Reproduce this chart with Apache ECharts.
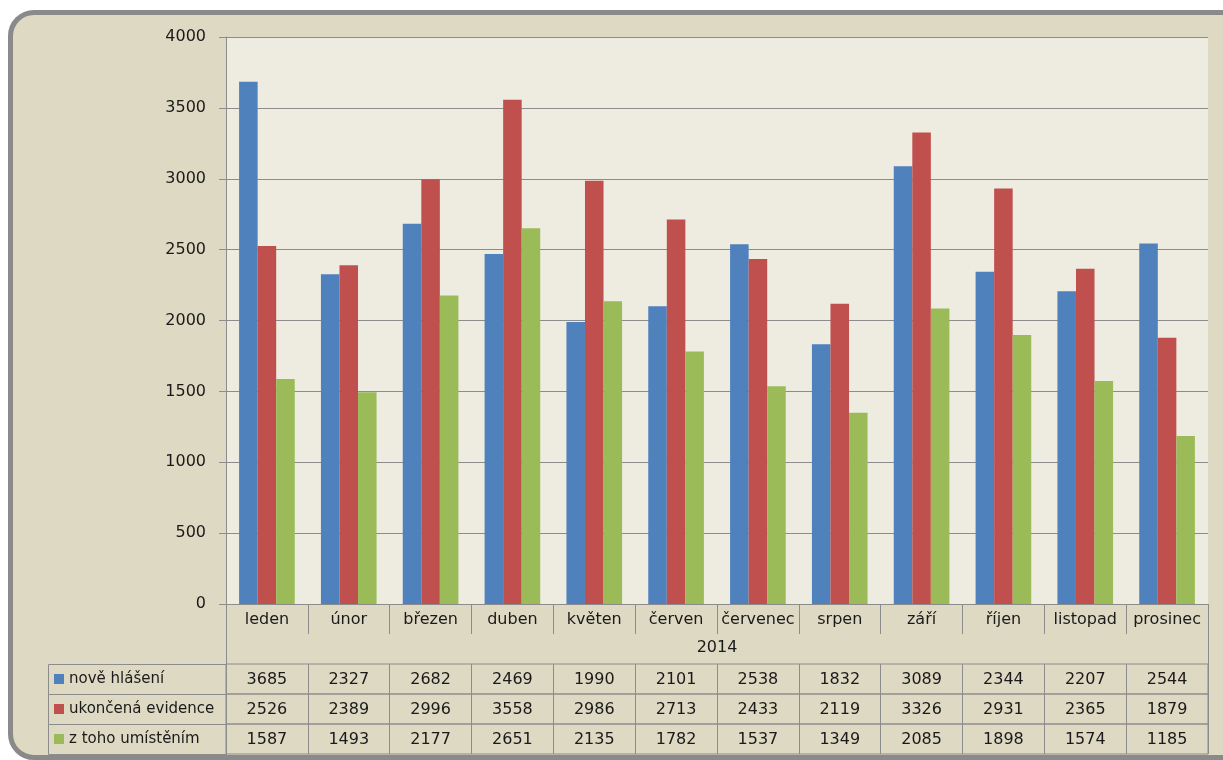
<!DOCTYPE html>
<html>
<head>
<meta charset="utf-8">
<script src="https://cdn.jsdelivr.net/npm/echarts@6/dist/echarts.min.js"></script>
<style>
  body { margin: 0; background: #fff; overflow: hidden; }
  #frame { position: absolute; left: 8px; top: 10px; width: 1240px; height: 740px;
           background: #ddd9c3; border: 5px solid #8a8a8a; border-radius: 26px; }
  #main { position: absolute; left: 0; top: 0; width: 1223px; height: 760px; }
</style>
</head>
<body>
<div id="frame"></div>
<div id="main"></div>
<script>
// data
const months = ['leden', 'únor', 'březen', 'duben', 'květen', 'červen', 'červenec', 'srpen', 'září', 'říjen', 'listopad', 'prosinec'];
const years = ['2014'];
const seriesNames = ['nově hlášení', 'ukončená evidence', 'z toho umístěním'];
const noveHlaseni = [3685, 2327, 2682, 2469, 1990, 2101, 2538, 1832, 3089, 2344, 2207, 2544];
const ukoncenaEvidence = [2526, 2389, 2996, 3558, 2986, 2713, 2433, 2119, 3326, 2931, 2365, 1879];
const zTohoUmistenim = [1587, 1493, 2177, 2651, 2135, 1782, 1537, 1349, 2085, 1898, 1574, 1185];
const yMin = 0, yMax = 4000, yStep = 500;

const rows = [noveHlaseni, ukoncenaEvidence, zTohoUmistenim];
const colors = ['#4f81bd', '#c0504d', '#9bbb59'];
const lineCol = '#8c8c8c';
const font = 'DejaVu Sans';

const chart = echarts.init(document.getElementById('main'));

// plot grid + three table row grids
const grids = [{ left: 226, right: 15, top: 37, bottom: 156, show: true, backgroundColor: '#eeece1', borderWidth: 0 }];
const xAxes = [
  {
    type: 'category', gridIndex: 0, data: months,
    axisLine: { lineStyle: { color: lineCol } },
    axisTick: { show: true, length: 30, interval: 0, lineStyle: { color: lineCol } },
    axisLabel: { interval: 0, margin: 8, fontSize: 16, fontFamily: font, color: '#1a1a1a' }
  },
  {
    type: 'category', gridIndex: 0, position: 'bottom', data: years,
    axisLine: { show: false },
    axisTick: { show: true, length: 60, interval: 0, lineStyle: { color: lineCol } },
    axisLabel: { interval: 0, margin: 36, fontSize: 16, fontFamily: font, color: '#1a1a1a' }
  }
];
const yAxes = [{
  type: 'value', gridIndex: 0, min: yMin, max: yMax, interval: yStep,
  axisLine: { show: true, lineStyle: { color: lineCol } },
  axisTick: { show: true, length: 7, lineStyle: { color: lineCol } },
  splitLine: { lineStyle: { color: lineCol } },
  axisLabel: { margin: 20, fontSize: 16, fontFamily: font, color: '#1a1a1a', formatter: v => String(v) }
}];
const graphics = [];

rows.forEach((vals, i) => {
  grids.push({ left: 226, right: 15, top: 664 + 30 * i, height: 30, show: true, borderColor: lineCol, borderWidth: 1, backgroundColor: 'transparent' });
  xAxes.push({
    type: 'category', gridIndex: i + 1, data: vals.map(String),
    axisLine: { show: false }, axisTick: { show: false },
    splitLine: { show: true, interval: 0, lineStyle: { color: lineCol } },
    axisLabel: { interval: 0, margin: -22, fontSize: 16, fontFamily: font, color: '#1a1a1a' }
  });
  yAxes.push({ type: 'value', gridIndex: i + 1, show: false });
  graphics.push({
    type: 'rect', left: 48, top: 664 + 30 * i,
    shape: { width: 178, height: 30 },
    style: { fill: 'transparent', stroke: lineCol, lineWidth: 1 }
  });
});

const option = {
  backgroundColor: 'transparent',
  animation: false,
  color: colors,
  grid: grids,
  xAxis: xAxes,
  yAxis: yAxes,
  graphic: graphics,
  legend: {
    orient: 'vertical', left: 54, top: 671, padding: 0,
    itemWidth: 10, itemHeight: 10, itemGap: 14, icon: 'rect',
    textStyle: { fontSize: 15, lineHeight: 16, fontFamily: font, color: '#1a1a1a' },
    data: seriesNames
  },
  series: rows.map((vals, i) => ({
    name: seriesNames[i], type: 'bar', xAxisIndex: 0, yAxisIndex: 0,
    barGap: 0, barCategoryGap: '32%',
    data: vals
  }))
};

chart.setOption(option);
</script>
</body>
</html>
